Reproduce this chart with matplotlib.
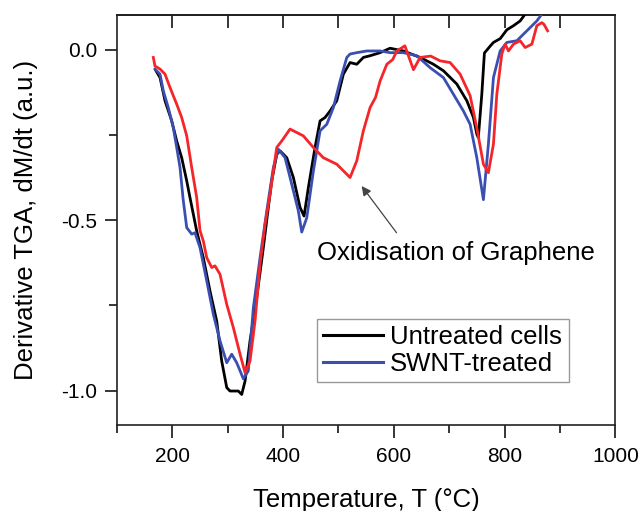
import matplotlib
matplotlib.use("Agg")
import matplotlib.pyplot as plt
from matplotlib.ticker import MultipleLocator

plt.rcParams['font.family'] = ['Liberation Sans', 'DejaVu Sans']

# Untreated cells (black)
T_untreated = [170.9, 178.2, 187.2, 199.3, 208.3, 217.3, 226.4, 232.3, 244.4, 256.3,
               268.4, 280.5, 289.5, 298.6, 304.5, 319.5, 325.6, 331.6, 340.6, 352.7,
               364.6, 373.6, 379.8, 388.8, 394.8, 406.9, 418.8, 430.9, 438.1, 445.8,
               457.9, 467.0, 476.0, 485.0, 497.1, 509.0, 521.1, 533.2, 545.1, 557.2,
               575.3, 593.3, 617.3, 647.5, 671.5, 689.5, 713.7, 731.8, 743.7, 749.8,
               752.5, 758.8, 763.5, 773.8, 779.8, 791.9, 804.0, 815.9, 828.0, 837.0, 855.0]
D_untreated = [-0.062, -0.082, -0.150, -0.209, -0.268, -0.317, -0.385, -0.434, -0.532, -0.610,
               -0.708, -0.796, -0.913, -0.991, -1.001, -1.001, -1.011, -0.972, -0.854, -0.727,
               -0.581, -0.463, -0.385, -0.307, -0.297, -0.317, -0.375, -0.463, -0.488, -0.405,
               -0.287, -0.209, -0.199, -0.180, -0.150, -0.072, -0.038, -0.043, -0.023, -0.018,
               -0.009, 0.004, -0.004, -0.023, -0.043, -0.062, -0.101, -0.150, -0.199, -0.248,
               -0.258, -0.131, -0.010, 0.010, 0.021, 0.032, 0.058, 0.070, 0.084, 0.104, 0.128]

# SWNT-treated (blue)
T_swnt = [169.1, 178.2, 184.1, 193.1, 202.2, 208.3, 214.3, 220.0, 226.4, 235.4,
          241.3, 250.4, 262.5, 274.4, 286.5, 298.6, 307.6, 316.6, 328.5, 337.5,
          346.6, 358.7, 370.8, 382.7, 391.7, 403.8, 415.9, 427.8, 433.9, 443.0,
          454.9, 467.0, 479.1, 491.0, 503.1, 515.2, 521.1, 533.2, 551.3, 575.3,
          593.3, 617.3, 641.5, 665.5, 689.5, 707.6, 725.6, 737.7, 749.8, 761.7,
          770.7, 779.8, 791.9, 804.0, 822.0, 840.1, 858.1, 867.1, 880.0]
D_swnt = [-0.057, -0.072, -0.121, -0.170, -0.229, -0.287, -0.346, -0.440, -0.522, -0.541,
          -0.537, -0.581, -0.678, -0.776, -0.854, -0.918, -0.893, -0.918, -0.965, -0.942,
          -0.757, -0.610, -0.473, -0.346, -0.292, -0.317, -0.395, -0.473, -0.535, -0.493,
          -0.356, -0.238, -0.219, -0.170, -0.092, -0.023, -0.013, -0.009, -0.004, -0.004,
          -0.009, -0.009, -0.018, -0.053, -0.082, -0.131, -0.180, -0.219, -0.317, -0.440,
          -0.277, -0.082, -0.004, 0.021, 0.026, 0.055, 0.084, 0.104, 0.125]

# Graphene-treated (red)
T_graphene = [166.1, 169.1, 178.2, 187.2, 196.2, 208.3, 217.3, 226.4, 235.4, 244.4,
              250.4, 256.3, 262.5, 271.5, 277.4, 286.5, 298.6, 310.5, 322.6, 331.6,
              340.6, 349.7, 358.7, 367.7, 376.7, 388.8, 397.8, 412.8, 436.8, 454.9,
              472.9, 497.1, 521.1, 533.2, 545.1, 557.2, 567.1, 575.3, 587.4, 598.2,
              605.4, 620.0, 635.5, 647.5, 666.6, 683.6, 701.6, 719.7, 737.7, 749.8,
              761.7, 770.7, 779.8, 785.9, 794.9, 800.9, 806.9, 815.9, 828.0, 837.0,
              849.1, 858.1, 867.1, 871.0, 877.5]
D_graphene = [-0.023, -0.048, -0.057, -0.072, -0.111, -0.160, -0.199, -0.253, -0.346, -0.434,
              -0.531, -0.561, -0.610, -0.639, -0.634, -0.659, -0.747, -0.815, -0.893, -0.947,
              -0.913, -0.795, -0.629, -0.512, -0.424, -0.287, -0.268, -0.233, -0.253, -0.287,
              -0.317, -0.336, -0.375, -0.326, -0.238, -0.170, -0.140, -0.092, -0.043, -0.029,
              -0.004, 0.011, -0.059, -0.023, -0.019, -0.033, -0.038, -0.072, -0.135, -0.230,
              -0.336, -0.361, -0.277, -0.131, -0.013, 0.016, -0.004, 0.016, 0.026, 0.006,
              0.016, 0.070, 0.079, 0.074, 0.055]

x_ticks = [200, 400, 600, 800, 1000]
y_ticks = [0.0, -0.5, -1.0]
y_ticklabels = ["0.0", "-0.5", "-1.0"]

fig = plt.figure(figsize=(6.4, 5.11), dpi=100)
ax = fig.add_axes([0.1823, 0.1687, 0.7794, 0.8010])

lw = 2.0
ax.plot(T_untreated, D_untreated, color='black', lw=lw, label='Untreated cells', zorder=3)
ax.plot(T_swnt, D_swnt, color='#3b4fb3', lw=lw, label='SWNT-treated', zorder=4)
ax.plot(T_graphene, D_graphene, color='#f5262a', lw=lw, zorder=5)

ax.set_xlim(100, 1000)
ax.set_ylim(-1.1, 0.1)
ax.set_xticks(x_ticks)
ax.set_yticks(y_ticks)
ax.set_yticklabels(y_ticklabels)
ax.xaxis.set_minor_locator(MultipleLocator(100))
ax.yaxis.set_minor_locator(MultipleLocator(0.25))

ax.tick_params(axis='x', which='major', direction='out', length=9, width=1.1,
               labelsize=15, pad=7, top=False)
ax.tick_params(axis='x', which='minor', direction='out', length=6, width=1.1, top=False)
ax.tick_params(axis='y', which='major', direction='out', length=9, width=1.1,
               labelsize=15, pad=5, right=False)
ax.tick_params(axis='y', which='minor', direction='out', length=6, width=1.1, right=False)

# top axis ticks pointing inward at every 100
ax_top = ax.secondary_xaxis('top')
ax_top.set_xticks([200, 300, 400, 500, 600, 700, 800, 900])
ax_top.tick_params(direction='in', length=9, width=1.1, labeltop=False)
ax_top.spines['top'].set_linewidth(1.2)

for s in ax.spines.values():
    s.set_linewidth(1.2)
    s.set_color('#222222')

ax.set_xlabel('Temperature, T (°C)', fontsize=18.5, labelpad=16)
ax.set_ylabel('Derivative TGA, dM/dt (a.u.)', fontsize=18.5, labelpad=17)

ax.annotate('Oxidisation of Graphene', xy=(542, -0.400), xytext=(461, -0.595),
            fontsize=18.5, va='center', ha='left', zorder=6)
ax.annotate('', xy=(542, -0.400), xytext=(605, -0.537),
            arrowprops=dict(arrowstyle='-|>', color='#444444', lw=0.9,
                            mutation_scale=14, shrinkA=0, shrinkB=0))

leg = ax.legend(loc='lower left', bbox_to_anchor=(0.4016, 0.1046), borderaxespad=0,
                fontsize=18.5, handlelength=2.3, handletextpad=0.3, labelspacing=0.1,
                borderpad=0.25, fancybox=False, framealpha=1, edgecolor='#999999')
leg.get_frame().set_linewidth(1.0)
for l in leg.get_lines():
    l.set_linewidth(2.2)

fig.savefig('out.png', dpi=100)
